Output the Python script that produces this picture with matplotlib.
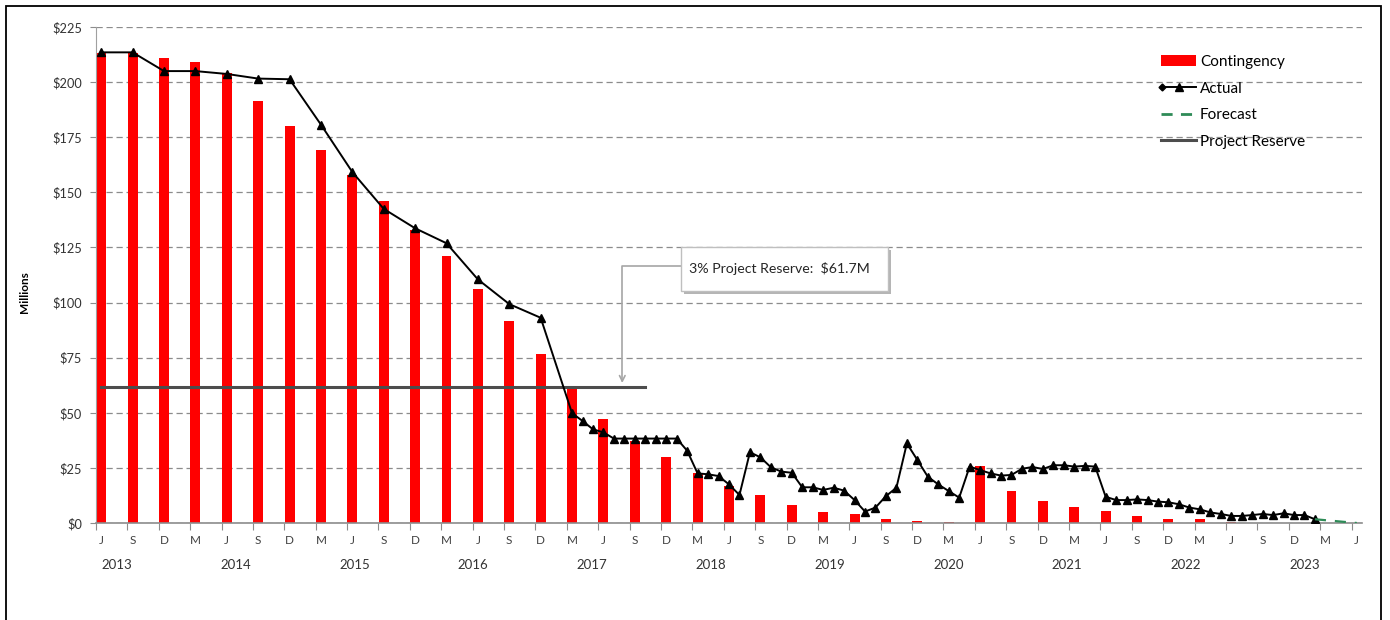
"""
Contingency drawdown chart: quarterly contingency balance (bars),
actual and forecast drawdown (lines) and the 3% project reserve.
"""

import numpy as np
import pandas as pd
import matplotlib
matplotlib.use("Agg")
import matplotlib.pyplot as plt
import matplotlib.transforms as mtransforms
from matplotlib.lines import Line2D
from matplotlib.patches import Patch, Rectangle
from matplotlib.legend_handler import HandlerBase


# monthly category axis, Jun 2013 - Jun 2023
MONTHS = pd.period_range("2013-06", "2023-06", freq="M")

# contingency balance ($M), quarterly Jun 2013 - Jun 2022
contingency = [213, 213, 211, 209, 204, 191.5, 180, 169, 158, 146,
               133, 121, 106.3, 91.8, 76.8, 61, 47.2, 37.4, 29.8, 22.7,
               17, 12.7, 8, 5.2, 4, 2, 1.1, 0.5, 26, 14.7,
               10.1, 7.1, 5.6, 3.3, 1.7, 1.7, 0.3]

# actual ($M): quarterly Jun 2013 - Mar 2017
actual_quarterly = [213.5, 213.5, 205, 205, 203.7, 201.6, 201.3, 180.7,
                    159.2, 142.5, 133.7, 126.9, 110.5, 99.3, 93.1, 49.8]
# actual ($M): monthly Apr 2017 - Feb 2023
actual_monthly = [46.3, 42.5, 41.1, 38.3, 38.3, 38.3, 38.3, 38.3, 38.3, 38.3,
                  32.8, 22.5, 22.1, 21.3, 17.5, 12.7, 32.1, 29.8, 25.3, 23.3,
                  22.8, 16.2, 16.2, 15.0, 16.0, 14.7, 10.4, 5.2, 7.0, 12.2,
                  16.0, 36.1, 28.6, 21.0, 17.5, 14.5, 11.5, 25.6, 24.0, 22.5,
                  21.5, 21.8, 24.6, 25.4, 24.5, 26.2, 26.2, 25.6, 25.9, 25.6,
                  11.9, 10.4, 10.4, 10.7, 10.4, 9.7, 9.4, 8.5, 7.0, 6.2,
                  4.8, 4.1, 3.2, 3.2, 3.6, 4.1, 3.6, 4.4, 3.6, 3.6,
                  1.7]

# forecast ($M), Feb 2023 -> Jun 2023
forecast_months = ["2023-02", "2023-06"]
forecast = [1.7, 0.0]

project_reserve = 61.7
reserve_months = ["2013-06", "2017-10"]

years = ["2013", "2014", "2015", "2016", "2017", "2018",
         "2019", "2020", "2021", "2022", "2023"]
y_ticks = [0, 25, 50, 75, 100, 125, 150, 175, 200, 225]


def month_idx(p):
    return MONTHS.get_loc(pd.Period(p, "M"))


class ActualHandler(HandlerBase):
    """Legend key: line with a diamond at the left end and a triangle in the middle."""

    def create_artists(self, legend, orig_handle, xdescent, ydescent,
                       width, height, fontsize, trans):
        y = height / 2 - ydescent
        x0, x1 = -xdescent, width - xdescent
        line = Line2D([x0, x1], [y, y], color="black", lw=1.4)
        dia = Line2D([x0 + 1], [y], marker="D", ms=3.5, color="black", ls="none")
        tri = Line2D([(x0 + x1) / 2], [y], marker="^", ms=5.5, color="black", ls="none")
        for a in (line, dia, tri):
            a.set_transform(trans)
        return [line, dia, tri]


def main():
    plt.rcParams["font.family"] = ["Lato", "DejaVu Sans"]

    fig = plt.figure(figsize=(13.9, 6.2), dpi=100)
    ax = fig.add_axes([96 / 1390, 1 - 523 / 620, (1362 - 96) / 1390, 496 / 620])

    n_q = len(actual_quarterly)
    cont_x = np.arange(len(contingency)) * 3
    actual_x = np.concatenate([np.arange(n_q) * 3,
                               np.arange(len(actual_monthly)) + (n_q - 1) * 3 + 1])
    actual_y = np.concatenate([actual_quarterly, actual_monthly])
    fc_x = [month_idx(m) for m in forecast_months]
    res_x = [month_idx(m) for m in reserve_months]

    ax.bar(cont_x, contingency, width=0.95, color="#FF0000", zorder=2)
    ax.plot(res_x, [project_reserve] * 2, color="#4d4d4d", lw=2.2, zorder=3)
    ax.plot(actual_x, actual_y, color="black", lw=1.4, marker="^", ms=5.5, zorder=4)
    ax.plot(fc_x, forecast, color="#2E8B57", lw=1.6, ls=(0, (5, 4)), zorder=4)

    ax.set_xlim(-0.5, len(MONTHS) - 0.5)
    ax.set_ylim(0, 225)

    # y axis
    ax.set_yticks(y_ticks)
    ax.set_yticklabels([f"${v}" for v in y_ticks])
    ax.tick_params(axis="y", length=4, color="#8c8c8c", labelsize=9.2,
                   labelcolor="#333333", pad=6)
    ax.yaxis.grid(True, linestyle=(0, (5, 3)), color="#8c8c8c", lw=0.9)
    ax.set_axisbelow(True)
    ax.set_ylabel("Millions", fontsize=8.5, fontweight="bold")
    ax.yaxis.set_label_coords(-0.052, 0.466)

    # x axis: tick marks between quarters, labels at the first month of each quarter
    q_pos = np.arange(0, len(MONTHS), 3)
    ax.set_xticks(q_pos - 0.5)
    ax.set_xticklabels([])
    ax.tick_params(axis="x", which="major", length=5, color="#8c8c8c")
    ax.set_xticks(q_pos, minor=True)
    ax.set_xticklabels([MONTHS[i].strftime("%b")[0] for i in q_pos], minor=True)
    ax.tick_params(axis="x", which="minor", length=0, pad=9, labelsize=8.5,
                   labelcolor="#404040")

    trans = mtransforms.blended_transform_factory(ax.transData, ax.transAxes)
    for k, yr in enumerate(years):
        ax.text(1.5 + 11.35 * k, -0.085, yr, transform=trans, ha="center",
                va="center", fontsize=9.5, color="#333333")

    for side in ("top", "right"):
        ax.spines[side].set_visible(False)
    ax.spines["left"].set_color("#a0a0a0")
    ax.spines["bottom"].set_color("#8c8c8c")
    ax.spines["bottom"].set_linewidth(1.2)

    # annotation box with elbow arrow to the reserve line
    shadow_tr = mtransforms.offset_copy(ax.transData, fig=fig, x=3, y=-3, units="dots")
    ax.add_patch(Rectangle((55.4, 105.2), 19.8, 20.1, transform=shadow_tr,
                           facecolor="#b5b5b5", edgecolor="none", zorder=5))
    ax.add_patch(Rectangle((55.4, 105.2), 19.8, 20.1, facecolor="white",
                           edgecolor="#bfbfbf", lw=1, zorder=6))
    ax.text(56.2, 115.6, "3% Project Reserve:  $61.7M", fontsize=10.2,
            va="center", ha="left", color="#262626", zorder=7)
    ax.annotate("", xy=(49.8, 63.5), xytext=(55.4, 116.6),
                arrowprops=dict(arrowstyle="->", color="#a6a6a6", lw=1.2,
                                connectionstyle="angle,angleA=0,angleB=90,rad=0",
                                shrinkA=0, shrinkB=0), zorder=5)

    # legend
    handles = [Patch(facecolor="#FF0000", edgecolor="none"),
               Line2D([], [], color="black"),
               Line2D([], [], color="#2E8B57", lw=2, ls=(0, (4, 3))),
               Line2D([], [], color="#4d4d4d", lw=2.2)]
    labels = ["Contingency", "Actual", "Forecast", "Project Reserve"]
    fig.legend(handles, labels, loc="upper left",
               bbox_to_anchor=(1161 / 1390, 1 - 55 / 620), frameon=False,
               fontsize=11, handlelength=2.3, handletextpad=0.25,
               labelspacing=0.82, borderpad=0, borderaxespad=0,
               handler_map={handles[1]: ActualHandler()})

    # outer frame
    fig.add_artist(Rectangle((6 / 1390, -0.05), (1381 - 6) / 1390, 1.05 - 6 / 620,
                             transform=fig.transFigure, fill=False,
                             edgecolor="black", lw=1.3))

    fig.savefig("out.png", dpi=100)
    plt.close(fig)


if __name__ == "__main__":
    main()
